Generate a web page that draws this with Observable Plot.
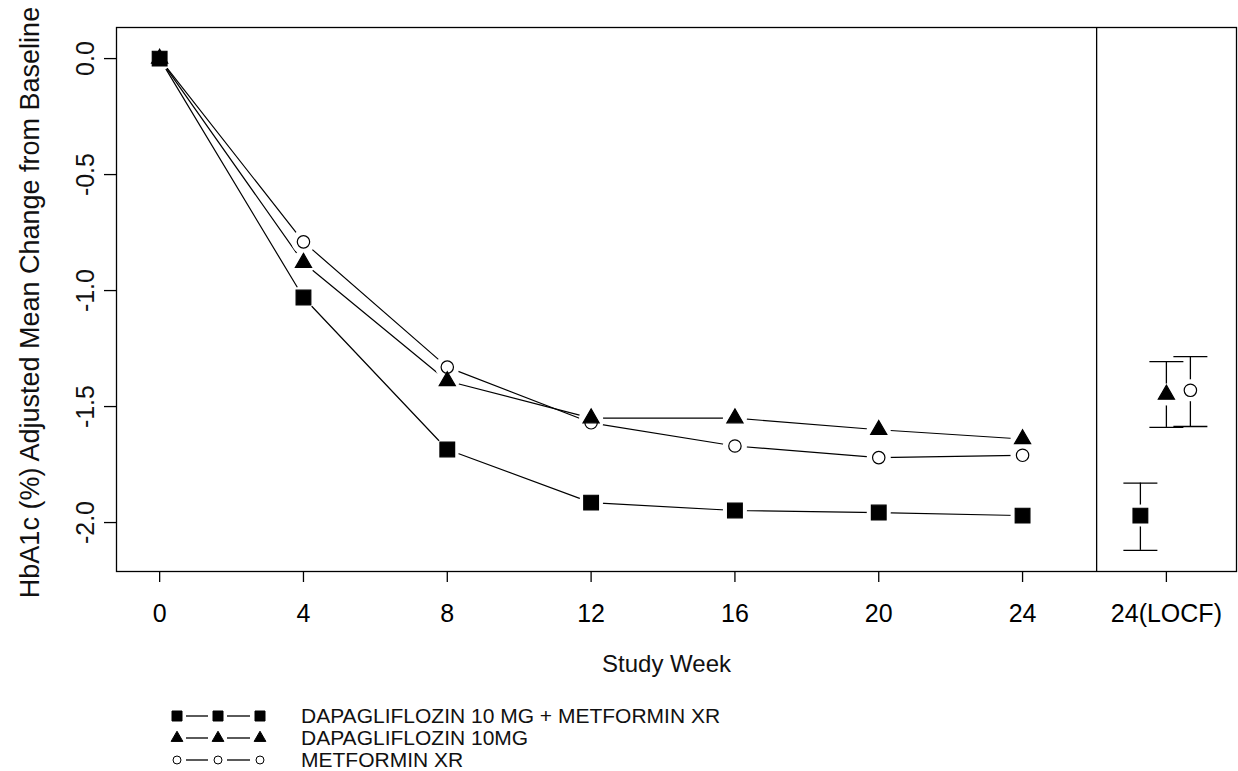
<!DOCTYPE html>
<html>
<head>
<meta charset="utf-8">
<script src="https://cdn.jsdelivr.net/npm/d3@7"></script>
<script src="https://cdn.jsdelivr.net/npm/@observablehq/plot@0.6"></script>
<style>
  html, body { margin: 0; padding: 0; background: white; }
  #wrap { position: relative; width: 1238px; height: 771px; overflow: hidden; font-family: "Liberation Sans", Arial, sans-serif; }
  #chart { position: absolute; left: 0; top: 0; }
  #legend { position: absolute; left: 0; top: 700px; width: 1238px; height: 71px; }
  .lgtext { position: absolute; left: 301px; font-size: 21px; line-height: 22px; color: #111; white-space: nowrap; }
</style>
</head>
<body>
<div id="wrap">
  <div id="chart"></div>
  <div id="legend"></div>
</div>
<script>
// ---- data ----
const weeks = [0, 4, 8, 12, 16, 20, 24];
const seriesNames = ["DAPAGLIFLOZIN 10 MG + METFORMIN XR", "DAPAGLIFLOZIN 10MG", "METFORMIN XR"];
const comboMean = [0, -1.03, -1.685, -1.914, -1.948, -1.957, -1.97];
const dapaMean  = [0, -0.88, -1.39, -1.55, -1.55, -1.60, -1.64];
const metMean   = [0, -0.79, -1.33, -1.57, -1.67, -1.72, -1.71];
const locfMean  = [-1.97, -1.448, -1.43];
const locfLower = [-2.12, -1.59, -1.586];
const locfUpper = [-1.83, -1.306, -1.285];
const locfWeek = 28;
const separatorWeek = 26.06;
const xTicks = [0, 4, 8, 12, 16, 20, 24, 28];
const xTickLabels = ["0", "4", "8", "12", "16", "20", "24", "24(LOCF)"];
const yTicks = [0, -0.5, -1, -1.5, -2];
const xTitle = "Study Week";
const yTitle = "HbA1c (%) Adjusted Mean Change from Baseline";

// ---- build tables ----
const means = [comboMean, dapaMean, metMean];
const rows = [];
means.forEach((arr, s) => weeks.forEach((w, i) => rows.push({series: seriesNames[s], week: w, value: arr[i]})));
const locf = seriesNames.map((n, s) => ({series: n, week: locfWeek, value: locfMean[s], lo: locfLower[s], hi: locfUpper[s]}));

const symbols = ["square", "triangle", "circle"];
const fills = ["black", "black", "white"];
const radii = [8.3, 6.0, 6.2];
const dxs = [-26, 0, 24];
const capSymbol = {draw(ctx) { ctx.moveTo(-17, 0); ctx.lineTo(17, 0); }};
const labelMap = new Map(xTicks.map((t, i) => [t, xTickLabels[i]]));

const marks = [
  Plot.frame({stroke: "black", strokeWidth: 1.3}),
  Plot.ruleX([separatorWeek], {stroke: "black", strokeWidth: 1.3}),
  Plot.axisX({ticks: xTicks, tickFormat: d => labelMap.get(d), tickSize: 11, tickPadding: 22, label: null, fontSize: 25, strokeWidth: 1.3}),
  Plot.axisY({ticks: yTicks, tickFormat: () => "", tickSize: 12, label: null, strokeWidth: 1.3}),
  Plot.text(yTicks, {y: d => d, text: d => d.toFixed(1), frameAnchor: "left", textAnchor: "middle", dx: -31, rotate: -90, fontSize: 25, fill: "#111"}),
  Plot.text([yTitle], {frameAnchor: "left", textAnchor: "middle", dx: -86, dy: 3, rotate: -90, fontSize: 27, fill: "#111"}),
  Plot.text([xTitle], {frameAnchor: "bottom", dy: 100, dx: -10, fontSize: 24, fill: "#111"}),
  Plot.line(rows, {x: "week", y: "value", z: "series", stroke: "black", strokeWidth: 1.2}),
  Plot.dot(rows, {x: "week", y: "value", r: 12, fill: "white", stroke: null})
];
[2, 1, 0].forEach(s => {
  const n = seriesNames[s];
  const sub = rows.filter(d => d.series === n);
  marks.push(Plot.dot(sub, {x: "week", y: "value", symbol: symbols[s], r: radii[s], fill: fills[s], stroke: "black", strokeWidth: 1.2}));
  const l = [locf[s]];
  marks.push(Plot.ruleX(l, {x: "week", y1: "lo", y2: "hi", dx: dxs[s], stroke: "black", strokeWidth: 1.3}));
  marks.push(Plot.dot(l, {x: "week", y: "lo", dx: dxs[s], symbol: capSymbol, stroke: "black", strokeWidth: 1.3, fill: "none"}));
  marks.push(Plot.dot(l, {x: "week", y: "hi", dx: dxs[s], symbol: capSymbol, stroke: "black", strokeWidth: 1.3, fill: "none"}));
  marks.push(Plot.dot(l, {x: "week", y: "value", r: 11, dx: dxs[s], fill: "white", stroke: null}));
  marks.push(Plot.dot(l, {x: "week", y: "value", dx: dxs[s], symbol: symbols[s], r: radii[s], fill: fills[s], stroke: "black", strokeWidth: 1.2}));
});

const chart = Plot.plot({
  width: 1238,
  height: 700,
  marginLeft: 116,
  marginRight: 2,
  marginTop: 27,
  marginBottom: 129,
  x: {domain: [-1.2, 29.95]},
  y: {domain: [-2.211, 0.134]},
  style: {fontFamily: "'Liberation Sans', Arial, sans-serif", background: "white", color: "black", overflow: "visible"},
  marks
});
document.getElementById("chart").appendChild(chart);

// ---- legend ----
const legend = document.getElementById("legend");
const rowY = [16, 38, 60];
const ns = "http://www.w3.org/2000/svg";
const lsvg = document.createElementNS(ns, "svg");
lsvg.setAttribute("width", 130); lsvg.setAttribute("height", 71);
lsvg.style.position = "absolute"; lsvg.style.left = "160px"; lsvg.style.top = "0px";
const px = [17, 58, 100];
seriesNames.forEach((n, s) => {
  const y = rowY[s];
  [[26, 48], [67, 90]].forEach(([a, b]) => {
    const ln = document.createElementNS(ns, "line");
    ln.setAttribute("x1", a); ln.setAttribute("x2", b); ln.setAttribute("y1", y); ln.setAttribute("y2", y);
    ln.setAttribute("stroke", "black"); ln.setAttribute("stroke-width", 1.3);
    lsvg.appendChild(ln);
  });
  px.forEach(x => {
    const p = document.createElementNS(ns, "path");
    p.setAttribute("d", d3.symbol(d3["symbol" + symbols[s][0].toUpperCase() + symbols[s].slice(1)], s === 0 ? 100 : s === 1 ? 60 : 50)());
    p.setAttribute("transform", `translate(${x},${y})`);
    p.setAttribute("fill", fills[s]); p.setAttribute("stroke", "black"); p.setAttribute("stroke-width", 1);
    lsvg.appendChild(p);
  });
  const t = document.createElement("div");
  t.className = "lgtext"; t.textContent = n; t.style.top = (y - 11) + "px";
  legend.appendChild(t);
});
legend.appendChild(lsvg);
</script>
</body>
</html>
